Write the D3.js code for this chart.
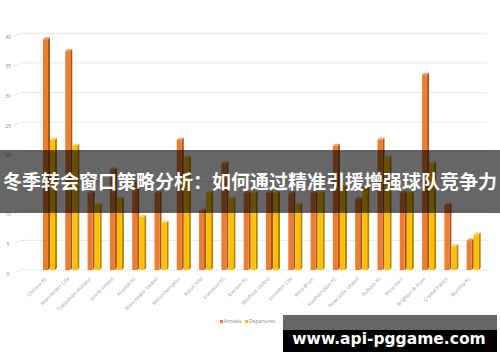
<!DOCTYPE html>
<html><head><meta charset="utf-8">
<script src="https://cdn.jsdelivr.net/npm/d3@7"></script>
<style>html,body{margin:0;padding:0;background:#fff;}svg{display:block;}</style>
</head><body>
<svg id="c" width="500" height="362"></svg>
<script>
const categories = ["Chelsea FC","Manchester City","Tottenham Hotspur","Leeds United","Arsenal FC","Manchester United","Wolverhampton","Aston Villa","Liverpool FC","Everton FC","Sheffield United","Leicester City","West Brom","Southampton FC","Newcastle United","Fulham FC","West Ham","Brighton & Hove","Crystal Palace","Burnley FC"];
const arrivals   = [39,37,13,17,15,13,22,10,18,13,13,13,13,21,12,22,13,33,11,5];
const departures = [22,21,11,12,9,8,19,13,12,13,13,11,13,14,14,19,13,18,4,6];
const seriesNames = ["Arrivals","Departures"];
const yTicks = [0,5,10,15,20,25,30,35,40];
const titleText = "冬季转会窗口策略分析：如何通过精准引援增强球队竞争力";
const watermark = "www.api-pggame.com";

const svg = d3.select("#c");
const colors = {Arrivals:{front:"#ED7D31",side:"#A9561C",top:"#F4A06A"}, Departures:{front:"#FFC000",side:"#B38600",top:"#FFD54F"}};

const y = d3.scaleLinear().domain([0,40]).range([270,33.3]);
const x = d3.scaleBand().domain(categories).range([31.85,491.85]).paddingInner(0.372).paddingOuter(0.5);
const xs = d3.scaleBand().domain(seriesNames).range([0,x.bandwidth()]);

const grid = svg.append("g");
yTicks.forEach(t=>{
  const yy = y(t);
  grid.append("path").attr("d",`M14,${yy+3.5}L20,${yy}L487,${yy}`).attr("fill","none").attr("stroke","#e3e3e3").attr("stroke-width",0.8);
});
svg.append("g").selectAll("text").data(yTicks).join("text")
  .attr("x",8).attr("y",d=>y(d)+5.5).attr("text-anchor","middle")
  .attr("font-family","Open Sans, sans-serif").attr("font-size",5).attr("fill","#888").text(d=>d);

const data = [];
categories.forEach((c,i)=>{
  data.push({c,s:"Arrivals",v:arrivals[i]});
  data.push({c,s:"Departures",v:departures[i]});
});
const fw = xs.bandwidth()-2, dp = 2;
const bars = svg.append("g").selectAll("g").data(data).join("g");
bars.append("path").attr("d",d=>{const x0=x(d.c)+xs(d.s)+fw, y0=y(d.v), yb=y(0);
  return `M${x0},${y0}L${x0+dp},${y0-dp}L${x0+dp},${yb-dp}L${x0},${yb}Z`;}).attr("fill",d=>colors[d.s].side);
bars.append("path").attr("d",d=>{const x0=x(d.c)+xs(d.s), y0=y(d.v);
  return `M${x0},${y0}L${x0+dp},${y0-dp}L${x0+fw+dp},${y0-dp}L${x0+fw},${y0}Z`;}).attr("fill",d=>colors[d.s].top);
bars.append("rect").attr("x",d=>x(d.c)+xs(d.s)).attr("y",d=>y(d.v)).attr("width",fw).attr("height",d=>y(0)-y(d.v)).attr("fill",d=>colors[d.s].front);

svg.append("g").selectAll("text").data(categories).join("text")
  .attr("transform",d=>`translate(${x(d)+x.bandwidth()/2-3},279) rotate(-45)`)
  .attr("text-anchor","end").attr("font-family","Open Sans, sans-serif").attr("font-size",5).attr("fill","#999").text(d=>d);

const lg = svg.append("g").attr("transform","translate(220,323)");
const lx = [0,25];
seriesNames.forEach((s,i)=>{
  lg.append("rect").attr("x",lx[i]).attr("y",-3).attr("width",3).attr("height",3).attr("fill",colors[s].front);
  lg.append("text").attr("x",lx[i]+4).attr("y",0).attr("font-family","Open Sans, sans-serif").attr("font-size",5).attr("fill","#888").text(s);
});

svg.append("rect").attr("x",0).attr("y",150).attr("width",500).attr("height",63).attr("fill","rgba(0,0,0,0.6)");
svg.append("text").attr("x",250).attr("y",189).attr("text-anchor","middle")
  .attr("font-family","Noto Sans CJK SC, sans-serif").attr("font-weight","bold").attr("font-size",19).attr("fill","#fff").text(titleText);

svg.append("rect").attr("x",283).attr("y",315).attr("width",214).attr("height",15).attr("fill","#666");
svg.append("rect").attr("x",283).attr("y",330).attr("width",214).attr("height",22).attr("fill","#000");
svg.append("text").attr("x",389).attr("y",344).attr("text-anchor","middle")
  .attr("font-family","DejaVu Sans, sans-serif").attr("font-weight","bold").attr("font-size",15.5).attr("fill","#fff").text(watermark);
</script>
</body></html>
